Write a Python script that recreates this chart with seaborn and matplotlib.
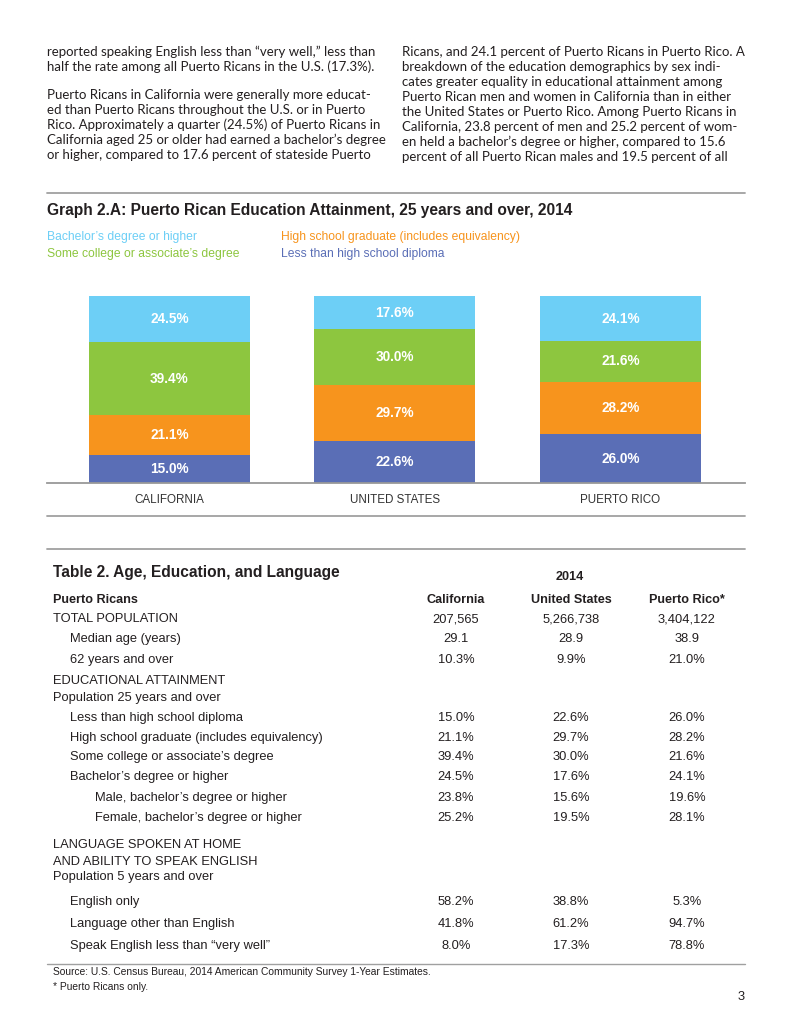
import matplotlib
matplotlib.use("Agg")
import matplotlib.pyplot as plt
import seaborn as sns
import numpy as np
import pandas as pd
from matplotlib.lines import Line2D
from matplotlib import font_manager

# ---------------- data ----------------
regions = ["CALIFORNIA", "UNITED STATES", "PUERTO RICO"]
less_hs = [15.0, 22.6, 26.0]
hs_grad = [21.1, 29.7, 28.2]
some_college = [39.4, 30.0, 21.6]
bachelors = [24.5, 17.6, 24.1]
level_names = ["Bachelor’s degree or higher",
               "Some college or associate’s degree",
               "High school graduate (includes equivalency)",
               "Less than high school diploma"]
level_colors = ["#6DCFF6", "#8DC63F", "#F7941D", "#5A6EB6"]

table_cols = ["California", "United States", "Puerto Rico*"]
total_pop = ["207,565", "5,266,738", "3,404,122"]
median_age = ["29.1", "28.9", "38.9"]
age_62 = ["10.3%", "9.9%", "21.0%"]
male_bach = ["23.8%", "15.6%", "19.6%"]
female_bach = ["25.2%", "19.5%", "28.1%"]
english_only = ["58.2%", "38.8%", "5.3%"]
other_lang = ["41.8%", "61.2%", "94.7%"]
speak_less = ["8.0%", "17.3%", "78.8%"]

left_col = ["reported speaking English less than “very well,” less than",
            "half the rate among all Puerto Ricans in the U.S. (17.3%).",
            None,
            "Puerto Ricans in California were generally more educat-",
            "ed than Puerto Ricans throughout the U.S. or in Puerto",
            "Rico. Approximately a quarter (24.5%) of Puerto Ricans in",
            "California aged 25 or older had earned a bachelor’s degree",
            "or higher, compared to 17.6 percent of stateside Puerto"]
right_col = ["Ricans, and 24.1 percent of Puerto Ricans in Puerto Rico. A",
             "breakdown of the education demographics by sex indi-",
             "cates greater equality in educational attainment among",
             "Puerto Rican men and women in California than in either",
             "the United States or Puerto Rico. Among Puerto Ricans in",
             "California, 23.8 percent of men and 25.2 percent of wom-",
             "en held a bachelor’s degree or higher, compared to 15.6",
             "percent of all Puerto Rican males and 19.5 percent of all"]

# ---------------- setup ----------------
sns.set_style("white")
installed = {f.name for f in font_manager.fontManager.ttflist}
BODY = ["Lato", "DejaVu Sans"] if "Lato" in installed else ["DejaVu Sans"]
ARIAL = ["Liberation Sans", "DejaVu Sans"]
NARROW = (["Liberation Sans Narrow", "DejaVu Sans"]
          if "Liberation Sans Narrow" in installed else ARIAL)
plt.rcParams["font.family"] = ARIAL

W, H = 791, 1024
fig = plt.figure(figsize=(W / 100, H / 100), dpi=100)
fig.patch.set_facecolor("white")
renderer = fig.canvas.get_renderer()


def fit(text, width, **kw):
    t = fig.text(0, 0, text, fontsize=10, **kw)
    w = t.get_window_extent(renderer=renderer).width
    t.remove()
    return 10 * width / w


def T(x, y, s, **kw):
    kw.setdefault("va", "center")
    return fig.text(x / W, 1 - y / H, s, **kw)


def hline(y, x0=47, x1=745, color="#A0A0A0", lw=1.3):
    fig.add_artist(Line2D([x0 / W, x1 / W], [1 - y / H, 1 - y / H],
                          transform=fig.transFigure, color=color, lw=lw))


# ---------------- body copy ----------------
body_fs = min(fit(left_col[0], 334, family=BODY), fit(right_col[0], 343, family=BODY))
y = 52
for line in left_col:
    if line is None:
        y += 13
        continue
    T(47, y, line, family=BODY, fontsize=body_fs, color="#231F20")
    y += 15
for i, line in enumerate(right_col):
    T(402, 52 + 15 * i, line, family=BODY, fontsize=body_fs, color="#231F20")

# ---------------- graph title & legend ----------------
hline(193)
title = "Graph 2.A: Puerto Rican Education Attainment, 25 years and over, 2014"
T(47, 211, title, family=ARIAL, fontweight="bold",
  fontsize=fit(title, 525, family=ARIAL, fontweight="bold"), color="#231F20")
leg_fs = fit(level_names[2], 238, family=ARIAL)
leg_pos = [(47, 237), (47, 254), (281, 237), (281, 254)]
for name, col, (lx, ly) in zip(level_names, level_colors, leg_pos):
    T(lx, ly, name, family=ARIAL, fontsize=leg_fs, color=col)

# ---------------- stacked bars ----------------
df = pd.DataFrame({"region": regions, "less": less_hs, "hs": hs_grad,
                   "some": some_college, "bach": bachelors})
layers_bottom_up = [("less", level_colors[3]), ("hs", level_colors[2]),
                    ("some", level_colors[1]), ("bach", level_colors[0])]
cum = df[["less", "hs", "some", "bach"]].cumsum(axis=1)

ax = fig.add_axes([47 / W, 1 - 483 / H, 698 / W, 187 / H])
for key, col in reversed(layers_bottom_up):
    sns.barplot(x=df["region"], y=cum[key], color=col, width=0.714,
                saturation=1, ax=ax, order=regions, edgecolor="none", linewidth=0)

lab_fs = fit("15.0%", 39, family=NARROW, fontweight="bold")
for key, _ in layers_bottom_up:
    for i in range(len(regions)):
        v = df[key].iloc[i]
        top = cum[key].iloc[i]
        ax.text(i, top - v / 2, f"{v:.1f}%", ha="center", va="center",
                color="white", fontweight="bold", fontsize=lab_fs, family=NARROW)

ax.set_xlim(-0.543, 2.552)
ax.set_ylim(0, 100)
ax.set_xlabel("")
ax.set_ylabel("")
ax.set_yticks([])
for s in ["top", "left", "right"]:
    ax.spines[s].set_visible(False)
ax.spines["bottom"].set_color("#999999")
ax.spines["bottom"].set_linewidth(1.3)
cat_fs = fit("CALIFORNIA", 70, family=ARIAL)
ax.tick_params(axis="x", length=0, pad=8, labelsize=cat_fs, labelcolor="#333333")
ax.set_facecolor("none")
hline(516)

# ---------------- table ----------------
hline(549)
tab_title = "Table 2. Age, Education, and Language"
T(53, 572, tab_title, family=NARROW, fontweight="bold",
  fontsize=fit(tab_title, 287, family=NARROW, fontweight="bold"), color="#231F20")
hdr_fs = fit("United States", 81, family=NARROW, fontweight="bold")
row_fs = fit("High school graduate (includes equivalency)", 253, family=NARROW)
T(570, 577, "2014", family=NARROW, fontweight="bold", fontsize=hdr_fs,
  ha="center", color="#231F20")
col_x = [456, 571, 687]
T(53, 600, "Puerto Ricans", family=NARROW, fontweight="bold", fontsize=hdr_fs, color="#231F20")
for cx, name in zip(col_x, table_cols):
    T(cx, 600, name, family=NARROW, fontweight="bold", fontsize=hdr_fs,
      ha="center", color="#231F20")

fmt = lambda arr: [f"{v:.1f}%" for v in arr]
rows = [
    (53, 619, "TOTAL POPULATION", total_pop),
    (70, 639, "Median age (years)", median_age),
    (70, 660, "62 years and over", age_62),
    (53, 681, "EDUCATIONAL ATTAINMENT", None),
    (53, 698, "Population 25 years and over", None),
    (70, 718, level_names[3], fmt(less_hs)),
    (70, 738, level_names[2], fmt(hs_grad)),
    (70, 757, level_names[1], fmt(some_college)),
    (70, 777, level_names[0], fmt(bachelors)),
    (95, 798, "Male, bachelor’s degree or higher", male_bach),
    (95, 818, "Female, bachelor’s degree or higher", female_bach),
    (53, 845, "LANGUAGE SPOKEN AT HOME", None),
    (53, 862, "AND ABILITY TO SPEAK ENGLISH", None),
    (53, 877, "Population 5 years and over", None),
    (70, 902, "English only", english_only),
    (70, 924, "Language other than English", other_lang),
    (70, 946, "Speak English less than “very well”", speak_less),
]
for rx, ry, label, vals in rows:
    T(rx, ry, label, family=NARROW, fontsize=row_fs, color="#231F20")
    if vals is not None:
        for cx, v in zip(col_x, vals):
            T(cx, ry, v, family=NARROW, fontsize=row_fs, ha="center", color="#231F20")

hline(964, lw=1.0)
src = "Source: U.S. Census Bureau, 2014 American Community Survey 1-Year Estimates."
src_fs = fit(src, 380, family=ARIAL)
T(53, 972, src, family=ARIAL, fontsize=src_fs, color="#231F20")
T(53, 987, "* Puerto Ricans only.", family=ARIAL, fontsize=src_fs, color="#231F20")
T(745, 997, "3", family=NARROW, fontsize=row_fs, ha="right", color="#231F20")

fig.savefig("out.png", dpi=100, facecolor="white")
